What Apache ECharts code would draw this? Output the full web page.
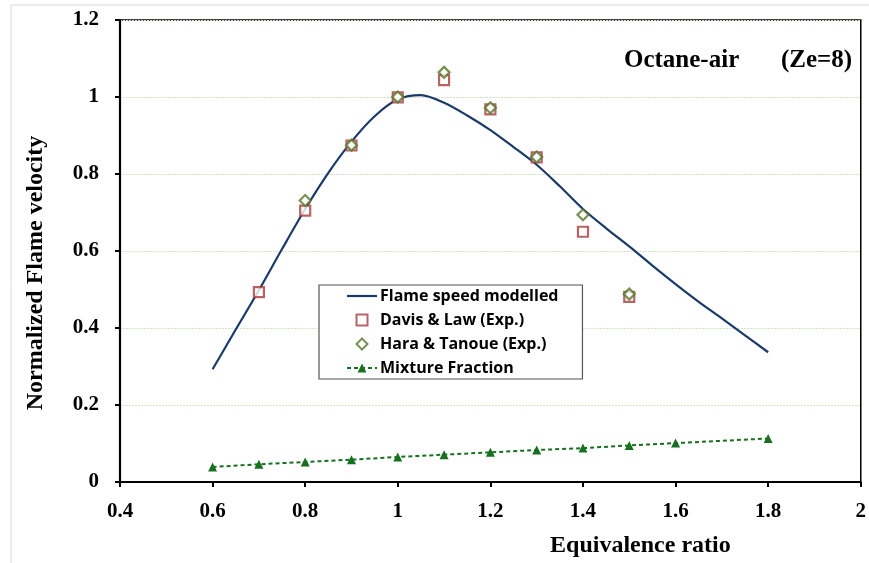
<!DOCTYPE html>
<html>
<head>
<meta charset="utf-8">
<script src="https://cdn.jsdelivr.net/npm/echarts@6/dist/echarts.min.js"></script>
<style>
html,body{margin:0;padding:0;background:#fff;}
#chart{width:869px;height:563px;}
</style>
</head>
<body>
<div id="chart"></div>
<script>
// ---- Data ----
const xTicks = [0.4, 0.6, 0.8, 1.0, 1.2, 1.4, 1.6, 1.8, 2.0];
const yTicks = [0, 0.2, 0.4, 0.6, 0.8, 1.0, 1.2];

const phiModel = [0.6, 0.65, 0.7, 0.75, 0.8, 0.85, 0.9, 0.95, 1.0, 1.05, 1.1, 1.15, 1.2,
                  1.25, 1.3, 1.35, 1.4, 1.45, 1.5, 1.55, 1.6, 1.65, 1.7, 1.75, 1.8];
const flameModel = [0.293, 0.396, 0.498, 0.605, 0.709, 0.803, 0.884, 0.950, 0.994, 1.005, 0.985, 0.952, 0.914,
                    0.870, 0.824, 0.768, 0.709, 0.659, 0.612, 0.562, 0.514, 0.468, 0.425, 0.381, 0.337];

const phiDavis = [0.7, 0.8, 0.9, 1.0, 1.1, 1.2, 1.3, 1.4, 1.5];
const davisVals = [0.493, 0.705, 0.874, 0.999, 1.044, 0.968, 0.843, 0.650, 0.481];

const phiHara = [0.8, 0.9, 1.0, 1.1, 1.2, 1.3, 1.4, 1.5];
const haraVals = [0.731, 0.875, 1.0, 1.064, 0.972, 0.844, 0.694, 0.488];

const phiMix = [0.6, 0.7, 0.8, 0.9, 1.0, 1.1, 1.2, 1.3, 1.4, 1.5, 1.6, 1.8];
const mixVals = [0.039, 0.046, 0.052, 0.058, 0.065, 0.071, 0.077, 0.083, 0.088, 0.095, 0.101, 0.113];

const legendNames = ['Flame speed modelled', 'Davis & Law (Exp.)', 'Hara & Tanoue (Exp.)', 'Mixture Fraction'];

const zip = (xs, ys) => xs.map((x, i) => [x, ys[i]]);

const serif = 'Liberation Serif';
const chart = echarts.init(document.getElementById('chart'), null, {renderer: 'canvas'});

const titleStyle = {fontFamily: serif, fontWeight: 'bold', fontSize: 25, color: '#000'};

const option = {
  backgroundColor: '#fff',
  animation: false,
  title: [
    {text: 'Octane-air', left: 619, top: 43, textStyle: titleStyle},
    {text: '(Ze=8)', left: 776, top: 43, textStyle: titleStyle}
  ],
  graphic: [
    {type: 'rect', shape: {x: 11, y: 5, width: 900, height: 600}, style: {fill: 'none', stroke: '#d9d9d9', lineWidth: 1}, silent: true, z: -1}
  ],
  grid: {left: 120, right: 7, top: 20, bottom: 81, show: true, borderColor: '#000', borderWidth: 1.5, backgroundColor: 'transparent'},
  legend: {
    orient: 'vertical',
    left: 319, top: 285,
    padding: [3, 24, 3, 27],
    backgroundColor: '#fff',
    borderColor: '#555', borderWidth: 1.2,
    itemWidth: 30, itemHeight: 11, itemGap: 8,
    symbolKeepAspect: true,
    textStyle: {fontFamily: 'Open Sans', fontWeight: 'bold', fontSize: 16, color: '#000', padding: [0, 0, 0, -2]},
    data: [
      {name: legendNames[0], icon: 'path://M0,0H30V2.2H0Z'},
      {name: legendNames[1], icon: 'path://M0,0H10V10H0Z'},
      {name: legendNames[2], icon: 'path://M5,0L10,5L5,10L0,5Z'},
      {name: legendNames[3]}
    ]
  },
  xAxis: {
    type: 'value', min: xTicks[0], max: xTicks[xTicks.length - 1], interval: 0.2,
    name: 'Equivalence ratio', nameLocation: 'middle', nameGap: 52,
    nameTextStyle: {fontFamily: serif, fontWeight: 'bold', fontSize: 24, color: '#000', padding: [0, 0, 0, 300]},
    axisLine: {lineStyle: {color: '#000', width: 2.2}},
    axisTick: {show: true, inside: false, length: 5, lineStyle: {color: '#000', width: 2}},
    axisLabel: {fontFamily: serif, fontWeight: 'bold', fontSize: 21, color: '#000', margin: 19,
      formatter: v => String(+v.toFixed(1))},
    splitLine: {show: false}
  },
  yAxis: {
    type: 'value', min: yTicks[0], max: yTicks[yTicks.length - 1], interval: 0.2,
    name: 'Normalized Flame velocity', nameLocation: 'middle', nameGap: 72,
    nameTextStyle: {fontFamily: serif, fontWeight: 'bold', fontSize: 24, color: '#000', padding: [0, 44, 0, 0]},
    axisLine: {show: true, lineStyle: {color: '#000', width: 2.2}},
    axisTick: {show: true, inside: false, length: 5, lineStyle: {color: '#000', width: 2}},
    axisLabel: {fontFamily: serif, fontWeight: 'bold', fontSize: 21, color: '#000', margin: 21,
      formatter: v => String(+v.toFixed(1))},
    splitLine: {show: true, lineStyle: {color: '#d5e3c6', width: 1, type: [2, 1]}}
  },
  series: [
    {
      name: legendNames[0], type: 'line', data: zip(phiModel, flameModel),
      smooth: 0.3, showSymbol: false, symbol: 'none',
      lineStyle: {color: '#1b3a6b', width: 2.2}, itemStyle: {color: '#1b3a6b'}, z: 2
    },
    {
      name: legendNames[1], type: 'scatter', data: zip(phiDavis, davisVals),
      symbol: 'rect', symbolSize: 10,
      itemStyle: {color: '#fff', borderColor: '#a83c3c', borderWidth: 2.2}, z: 3
    },
    {
      name: legendNames[2], type: 'scatter', data: zip(phiHara, haraVals),
      symbol: 'diamond', symbolSize: [11, 11],
      itemStyle: {color: '#fff', borderColor: '#55752a', borderWidth: 2.2}, z: 4
    },
    {
      name: legendNames[3], type: 'line', data: zip(phiMix, mixVals),
      symbol: 'triangle', symbolSize: 9, showSymbol: true,
      lineStyle: {color: '#17701f', width: 2, type: [4, 3]},
      itemStyle: {color: '#17701f'}, z: 3
    }
  ]
};
chart.setOption(option);
</script>
</body>
</html>
